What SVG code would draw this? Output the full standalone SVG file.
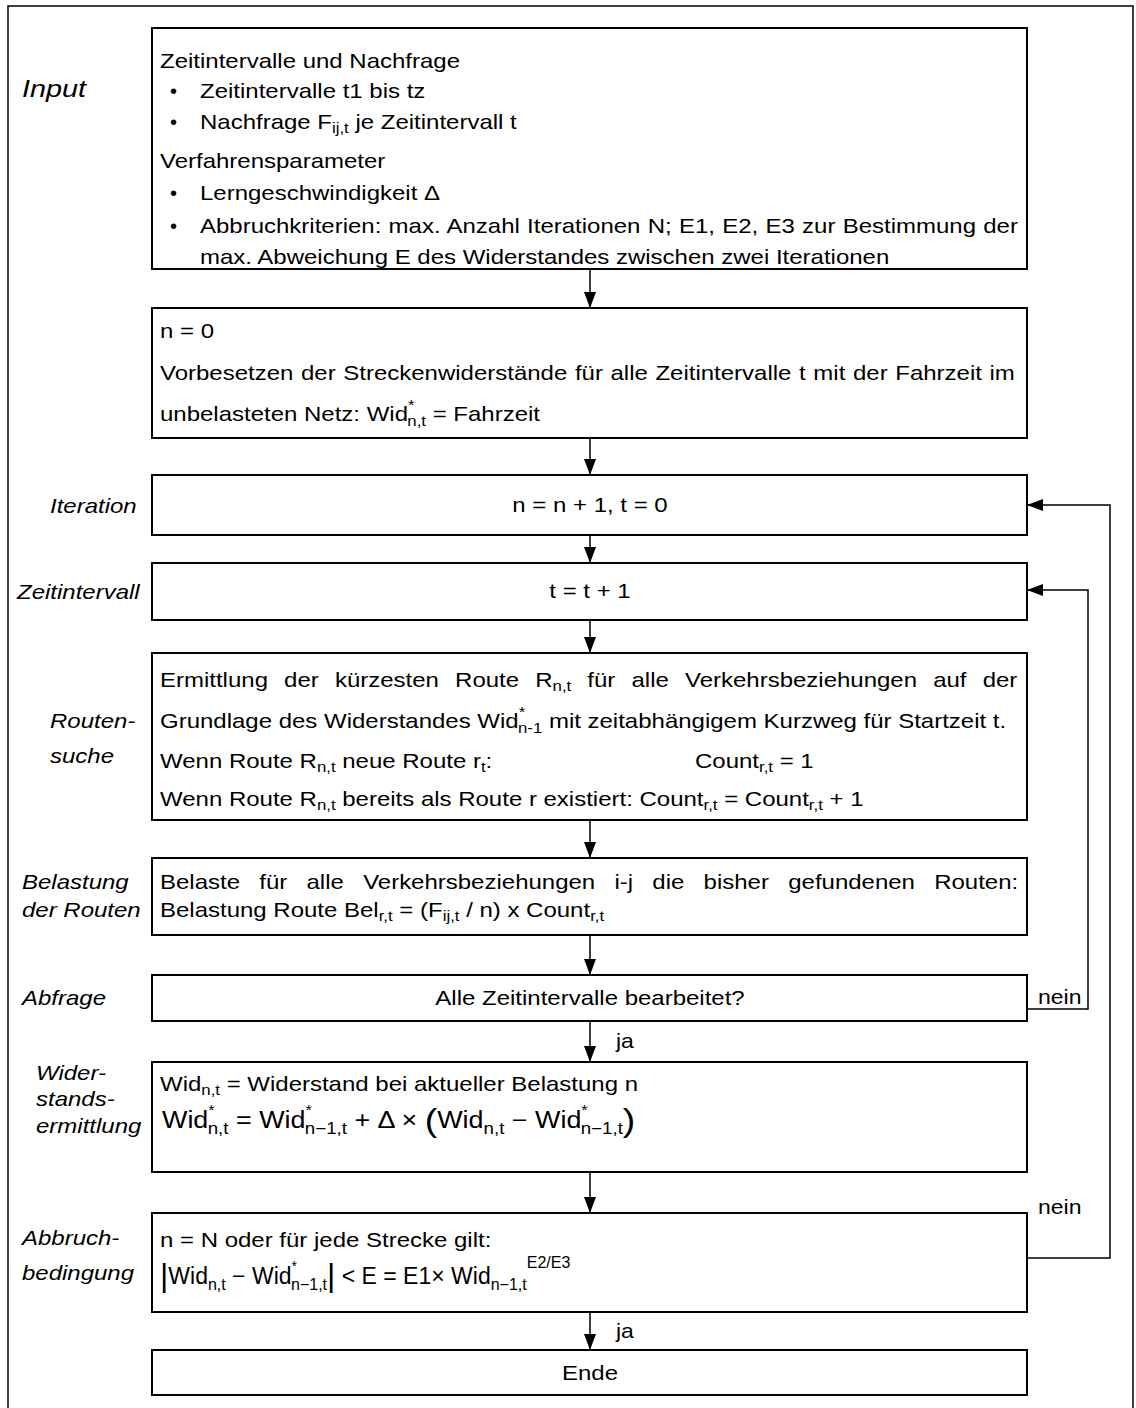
<svg xmlns="http://www.w3.org/2000/svg" width="1136" height="1408" viewBox="0 0 1136 1408">
<defs>
<marker id="ah" markerUnits="userSpaceOnUse" markerWidth="16" markerHeight="12" refX="16" refY="6" orient="auto">
<path d="M0,0 L16,6 L0,12 z" fill="#000"/>
</marker>
<style>
.box{fill:#fff;stroke:#000;stroke-width:2}
.t{font-family:"Liberation Sans",Arial,sans-serif;font-size:20px;fill:#000}
.lb{font-family:"Liberation Sans",Arial,sans-serif;font-size:20px;font-style:italic;fill:#000}
.c{text-anchor:middle}
.s{font-size:14px}
.f{font-family:"Liberation Sans",Arial,sans-serif;font-size:23px;fill:#000}
.fs{font-size:16px}
.con{fill:none;stroke:#000;stroke-width:1.5}
</style>
</defs>
<rect width="1136" height="1408" fill="#fff"/>
<path d="M8,1410 V6 H1133 V1410" fill="none" stroke="#000" stroke-width="1.5"/>

<g id="labels">
<text class="lb" transform="translate(22,97) scale(1.2,1)" style="font-size:24px">Input</text>
<text class="lb" transform="translate(50,513) scale(1.2,1)">Iteration</text>
<text class="lb" transform="translate(17,599) scale(1.2,1)">Zeitintervall</text>
<text class="lb" transform="translate(50,728) scale(1.2,1)">Routen-</text>
<text class="lb" transform="translate(50,763) scale(1.2,1)">suche</text>
<text class="lb" transform="translate(22,889) scale(1.2,1)">Belastung</text>
<text class="lb" transform="translate(22,917) scale(1.2,1)">der Routen</text>
<text class="lb" transform="translate(22,1005) scale(1.2,1)">Abfrage</text>
<text class="lb" transform="translate(36,1080) scale(1.2,1)">Wider-</text>
<text class="lb" transform="translate(36,1106) scale(1.2,1)">stands-</text>
<text class="lb" transform="translate(36,1133) scale(1.2,1)">ermittlung</text>
<text class="lb" transform="translate(22,1245) scale(1.2,1)">Abbruch-</text>
<text class="lb" transform="translate(22,1280) scale(1.2,1)">bedingung</text>
</g>

<g id="connectors">
<line class="con" x1="590" y1="269" x2="590" y2="308" marker-end="url(#ah)"/>
<line class="con" x1="590" y1="438" x2="590" y2="475" marker-end="url(#ah)"/>
<line class="con" x1="590" y1="535" x2="590" y2="563" marker-end="url(#ah)"/>
<line class="con" x1="590" y1="620" x2="590" y2="653" marker-end="url(#ah)"/>
<line class="con" x1="590" y1="820" x2="590" y2="858" marker-end="url(#ah)"/>
<line class="con" x1="590" y1="935" x2="590" y2="975" marker-end="url(#ah)"/>
<line class="con" x1="590" y1="1021" x2="590" y2="1062" marker-end="url(#ah)"/>
<line class="con" x1="590" y1="1172" x2="590" y2="1213" marker-end="url(#ah)"/>
<line class="con" x1="590" y1="1312" x2="590" y2="1350" marker-end="url(#ah)"/>
<path class="con" d="M1022,1009 H1088 V590 H1027" marker-end="url(#ah)"/>
<path class="con" d="M1022,1258 H1110 V505 H1027" marker-end="url(#ah)"/>
<text class="t" transform="translate(1038,1004) scale(1.15,1)">nein</text>
<text class="t" transform="translate(1038,1214) scale(1.15,1)">nein</text>
<text class="t" transform="translate(616,1048) scale(1.15,1)">ja</text>
<text class="t" transform="translate(616,1338) scale(1.15,1)">ja</text>
</g>

<g id="input">
<rect class="box" x="152" y="28" width="875" height="241"/>
<text class="t" transform="translate(160,68) scale(1.2,1)">Zeitintervalle und Nachfrage</text>
<text class="t" x="170" y="98">•</text>
<text class="t" transform="translate(200,98) scale(1.2,1)">Zeitintervalle t1 bis tz</text>
<text class="t" x="170" y="129">•</text>
<text class="t" transform="translate(200,129) scale(1.2,1)">Nachfrage F<tspan class="s" dy="4">ij,t</tspan><tspan dy="-4"> je Zeitintervall t</tspan></text>
<text class="t" transform="translate(160,168) scale(1.2,1)">Verfahrensparameter</text>
<text class="t" x="170" y="200">•</text>
<text class="t" transform="translate(200,200) scale(1.2,1)">Lerngeschwindigkeit Δ</text>
<text class="t" x="170" y="233">•</text>
<text class="t" transform="translate(200,233) scale(1.2,1)" word-spacing="0.5">Abbruchkriterien: max. Anzahl Iterationen N; E1, E2, E3 zur Bestimmung der</text>
<text class="t" transform="translate(200,264) scale(1.2,1)">max. Abweichung E des Widerstandes zwischen zwei Iterationen</text>
</g>

<g id="init">
<rect class="box" x="152" y="308" width="875" height="130"/>
<text class="t" transform="translate(160,338) scale(1.2,1)">n = 0</text>
<text class="t" transform="translate(160,380) scale(1.2,1)" word-spacing="0.8">Vorbesetzen der Streckenwiderstände für alle Zeitintervalle t mit der Fahrzeit im</text>
<text class="t" transform="translate(160,421) scale(1.2,1)">unbelasteten Netz:  Wid<tspan class="s" dy="-11">*</tspan><tspan class="s" dx="-6" dy="16">n,t</tspan><tspan dy="-5"> = Fahrzeit</tspan></text>
</g>

<g id="iteration">
<rect class="box" x="152" y="475" width="875" height="60"/>
<text class="t c" transform="translate(590,512) scale(1.2,1)">n = n + 1, t = 0</text>
</g>

<g id="zeitintervall">
<rect class="box" x="152" y="563" width="875" height="57"/>
<text class="t c" transform="translate(590,598) scale(1.2,1)">t = t + 1</text>
</g>

<g id="routensuche">
<rect class="box" x="152" y="653" width="875" height="167"/>
<text class="t" transform="translate(160,687) scale(1.2,1)" word-spacing="7.9">Ermittlung der kürzesten Route R<tspan class="s" dy="4">n,t</tspan><tspan dy="-4"> für alle Verkehrsbeziehungen auf der</tspan></text>
<text class="t" transform="translate(160,728) scale(1.2,1)">Grundlage des Widerstandes  Wid<tspan class="s" dy="-11">*</tspan><tspan class="s" dx="-6" dy="16">n-1</tspan><tspan dy="-5"> mit zeitabhängigem Kurzweg für Startzeit t.</tspan></text>
<text class="t" transform="translate(160,768) scale(1.2,1)">Wenn Route R<tspan class="s" dy="4">n,t</tspan><tspan dy="-4"> neue Route r</tspan><tspan class="s" dy="4">t</tspan><tspan dy="-4">:</tspan></text>
<text class="t" transform="translate(695,768) scale(1.2,1)">Count<tspan class="s" dy="4">r,t</tspan><tspan dy="-4"> = 1</tspan></text>
<text class="t" transform="translate(160,806) scale(1.2,1)">Wenn Route R<tspan class="s" dy="4">n,t</tspan><tspan dy="-4"> bereits als Route r existiert: Count</tspan><tspan class="s" dy="4">r,t</tspan><tspan dy="-4"> = Count</tspan><tspan class="s" dy="4">r,t</tspan><tspan dy="-4"> + 1</tspan></text>
</g>

<g id="belastung">
<rect class="box" x="152" y="858" width="875" height="77"/>
<text class="t" transform="translate(160,889) scale(1.2,1)" word-spacing="10.5">Belaste für alle Verkehrsbeziehungen i-j die bisher gefundenen Routen:</text>
<text class="t" transform="translate(160,917) scale(1.2,1)">Belastung Route Bel<tspan class="s" dy="4">r,t</tspan><tspan dy="-4"> = (F</tspan><tspan class="s" dy="4">ij,t</tspan><tspan dy="-4"> / n) x Count</tspan><tspan class="s" dy="4">r,t</tspan></text>
</g>

<g id="abfrage">
<rect class="box" x="152" y="975" width="875" height="46"/>
<text class="t c" transform="translate(590,1005) scale(1.2,1)">Alle Zeitintervalle bearbeitet?</text>
</g>

<g id="widerstand">
<rect class="box" x="152" y="1062" width="875" height="110"/>
<text class="t" transform="translate(160,1091) scale(1.2,1)">Wid<tspan class="s" dy="4">n,t</tspan><tspan dy="-4"> = Widerstand bei aktueller Belastung n</tspan></text>
<text class="f" transform="translate(162,1128) scale(1.17,1)">Wid<tspan class="s" dy="-13">*</tspan><tspan class="fs" dx="-6" dy="19">n,t</tspan><tspan dy="-6"> = Wid</tspan><tspan class="s" dy="-13">*</tspan><tspan class="fs" dx="-6" dy="19">n−1,t</tspan><tspan dy="-6"> + Δ × </tspan><tspan style="font-size:32px;font-weight:300" dy="3">(</tspan><tspan dy="-3">Wid</tspan><tspan class="fs" dy="6">n,t</tspan><tspan dy="-6"> − Wid</tspan><tspan class="s" dy="-13">*</tspan><tspan class="fs" dx="-6" dy="19">n−1,t</tspan><tspan style="font-size:32px;font-weight:300" dy="-3">)</tspan></text>
</g>

<g id="abbruch">
<rect class="box" x="152" y="1213" width="875" height="99"/>
<text class="t" transform="translate(160,1247) scale(1.2,1)">n = N oder für jede Strecke gilt:</text>
<text class="f" x="160" y="1284"><tspan style="font-size:32px;font-weight:300" dy="2">|</tspan><tspan dy="-2">Wid</tspan><tspan class="fs" dy="6">n,t</tspan><tspan dy="-6"> − Wid</tspan><tspan class="s" dy="-13">*</tspan><tspan class="fs" dx="-6" dy="19">n−1,t</tspan><tspan style="font-size:32px;font-weight:300" dy="-4">|</tspan><tspan dy="-2"> &lt; E = E1× Wid</tspan><tspan class="fs" dy="6">n−1,t</tspan><tspan style="font-size:16px" dy="-22">E2/E3</tspan></text>
</g>

<g id="ende">
<rect class="box" x="152" y="1350" width="875" height="45"/>
<text class="t c" transform="translate(590,1380) scale(1.2,1)">Ende</text>
</g>
</svg>
